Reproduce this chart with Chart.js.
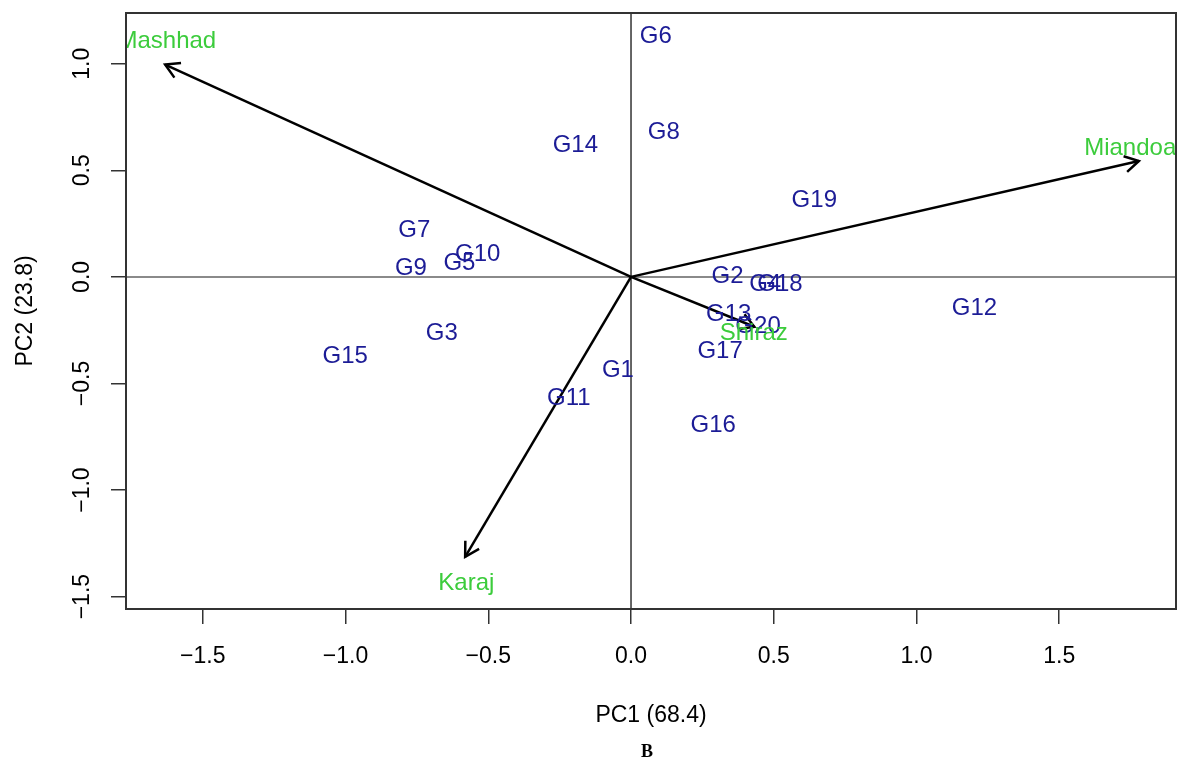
<!DOCTYPE html>
<html>
<head>
<meta charset="utf-8">
<title>GGE biplot</title>
<script src="https://cdn.jsdelivr.net/npm/chart.js@4.4.1/dist/chart.umd.min.js"></script>
<style>
  html, body { margin: 0; padding: 0; background: #fff; }
  canvas { display: block; }
</style>
</head>
<body>
<canvas id="biplot" width="1178" height="767"></canvas>
<script>
// genotype scores
const genotypes = ['G1', 'G2', 'G3', 'G4', 'G5', 'G6', 'G7', 'G8', 'G9', 'G10',
                   'G11', 'G12', 'G13', 'G14', 'G15', 'G16', 'G17', 'G18', 'G19', 'G20'];
const pc1Scores = [-0.046, 0.338, -0.663, 0.470, -0.601, 0.087, -0.759, 0.115, -0.771, -0.537,
                   -0.218, 1.203, 0.342, -0.195, -1.001, 0.288, 0.312, 0.522, 0.642, 0.445];
const pc2Scores = [-0.437, 0.002, -0.267, -0.037, 0.063, 1.129, 0.217, 0.680, 0.038, 0.105,
                   -0.570, -0.147, -0.178, 0.615, -0.373, -0.697, -0.350, -0.037, 0.360, -0.230];

// environment vectors
const envNames = ['Mashhad', 'Miandoab', 'Karaj', 'Shiraz'];
const envArrowX = [-1.632, 1.779, -0.581, 0.432];
const envArrowY = [0.996, 0.544, -1.313, -0.234];
const envLabelX = [-1.626, 1.772, -0.577, 0.430];
const envLabelY = [1.105, 0.603, -1.440, -0.265];

const xTicks = [-1.5, -1.0, -0.5, 0.0, 0.5, 1.0, 1.5];
const yTicks = [-1.5, -1.0, -0.5, 0.0, 0.5, 1.0];
const xRange = [-1.769, 1.909];
const yRange = [-1.558, 1.238];

const FONT = 'Liberation Sans, Arial, Helvetica, sans-serif';
const BLUE = '#1c1c96';
const GREEN = '#3ccc3c';

function fmt(v) {
    return v.toFixed(1).replace('-', '\u2212');
}

const arrowSets = envNames.map(function(name, i) {
    return {
        label: name,
        type: 'scatter',
        showLine: true,
        data: [{x: 0, y: 0}, {x: envArrowX[i], y: envArrowY[i]}],
        borderColor: '#000',
        borderWidth: 2.5,
        pointRadius: 0,
        isArrow: true
    };
});

const genoSet = {
    label: 'genotypes',
    data: genotypes.map(function(g, i) { return {x: pc1Scores[i], y: pc2Scores[i]}; }),
    pointRadius: 0,
    textLabels: genotypes,
    textColor: BLUE
};

const envSet = {
    label: 'environments',
    data: envNames.map(function(e, i) { return {x: envLabelX[i], y: envLabelY[i]}; }),
    pointRadius: 0,
    textLabels: envNames,
    textColor: GREEN
};

const biplotDraw = {
    id: 'biplotDraw',
    beforeDatasetsDraw: function(chart) {
        const ctx = chart.ctx;
        const a = chart.chartArea;
        const x0 = chart.scales.x.getPixelForValue(0);
        const y0 = chart.scales.y.getPixelForValue(0);
        ctx.save();
        ctx.strokeStyle = '#8a8a8a';
        ctx.lineWidth = 2;
        ctx.beginPath();
        ctx.moveTo(a.left, y0);
        ctx.lineTo(a.right, y0);
        ctx.stroke();
        ctx.strokeStyle = '#333';
        ctx.lineWidth = 1.5;
        ctx.beginPath();
        ctx.moveTo(x0, a.top);
        ctx.lineTo(x0, a.bottom);
        ctx.stroke();
        ctx.restore();
    },
    afterDatasetsDraw: function(chart) {
        const ctx = chart.ctx;
        const a = chart.chartArea;
        ctx.save();
        ctx.beginPath();
        ctx.rect(a.left, a.top, a.right - a.left, a.bottom - a.top);
        ctx.clip();

        chart.data.datasets.forEach(function(ds, di) {
            const meta = chart.getDatasetMeta(di);
            if (ds.isArrow) {
                const p0 = meta.data[0], p1 = meta.data[1];
                const ang = Math.atan2(p1.y - p0.y, p1.x - p0.x);
                const len = 16;
                ctx.strokeStyle = '#000';
                ctx.lineWidth = 2.5;
                ctx.beginPath();
                ctx.moveTo(p1.x - len * Math.cos(ang - Math.PI / 6), p1.y - len * Math.sin(ang - Math.PI / 6));
                ctx.lineTo(p1.x, p1.y);
                ctx.lineTo(p1.x - len * Math.cos(ang + Math.PI / 6), p1.y - len * Math.sin(ang + Math.PI / 6));
                ctx.stroke();
            } else if (ds.textLabels) {
                ctx.font = '24px ' + FONT;
                ctx.fillStyle = ds.textColor;
                ctx.textAlign = 'center';
                ctx.textBaseline = 'middle';
                meta.data.forEach(function(pt, i) {
                    ctx.fillText(ds.textLabels[i], pt.x, pt.y);
                });
            }
        });
        ctx.restore();

        // box
        ctx.save();
        ctx.strokeStyle = '#333';
        ctx.lineWidth = 2;
        ctx.strokeRect(a.left, a.top, a.right - a.left, a.bottom - a.top);

        // rotated y tick labels, as R draws them
        const ys = chart.scales.y;
        ctx.font = '23px ' + FONT;
        ctx.fillStyle = '#000';
        ctx.textAlign = 'center';
        ctx.textBaseline = 'middle';
        ys.ticks.forEach(function(t) {
            const py = ys.getPixelForValue(t.value);
            ctx.save();
            ctx.translate(83, py);
            ctx.rotate(-Math.PI / 2);
            ctx.fillText(fmt(t.value), 0, 0);
            ctx.restore();
        });

        // panel letter
        ctx.font = 'bold 18px Liberation Serif, Times New Roman, serif';
        ctx.fillText('B', 647, 752);
        ctx.restore();
    }
};

new Chart(document.getElementById('biplot'), {
    type: 'scatter',
    data: { datasets: arrowSets.concat([genoSet, envSet]) },
    options: {
        responsive: false,
        animation: false,
        devicePixelRatio: 1,
        layout: { padding: { top: 13, right: 2, left: 0, bottom: 0 } },
        plugins: {
            legend: { display: false },
            tooltip: { enabled: false }
        },
        scales: {
            x: {
                type: 'linear',
                min: xRange[0],
                max: xRange[1],
                afterFit: function(scale) { scale.height = 158; },
                afterBuildTicks: function(scale) {
                    scale.ticks = xTicks.map(function(v) { return {value: v}; });
                },
                grid: { drawOnChartArea: false, drawTicks: true, tickLength: 15, color: '#333', lineWidth: 1.5 },
                border: { display: false },
                ticks: {
                    padding: 19,
                    maxRotation: 0,
                    autoSkip: false,
                    color: '#000',
                    font: { family: FONT, size: 23 },
                    callback: function(v) { return fmt(v); }
                },
                title: {
                    display: true,
                    text: 'PC1 (68.4)',
                    color: '#000',
                    font: { family: FONT, size: 23 },
                    padding: { top: 0, bottom: 38 }
                }
            },
            y: {
                type: 'linear',
                min: yRange[0],
                max: yRange[1],
                afterFit: function(scale) { scale.width = 126; },
                afterBuildTicks: function(scale) {
                    scale.ticks = yTicks.map(function(v) { return {value: v}; });
                },
                grid: { drawOnChartArea: false, drawTicks: true, tickLength: 15, color: '#333', lineWidth: 1.5 },
                border: { display: false },
                ticks: { display: false },
                title: {
                    display: true,
                    text: 'PC2 (23.8)',
                    color: '#000',
                    font: { family: FONT, size: 23 },
                    padding: { top: 12, bottom: 0 }
                }
            }
        }
    },
    plugins: [biplotDraw]
});
</script>
</body>
</html>
